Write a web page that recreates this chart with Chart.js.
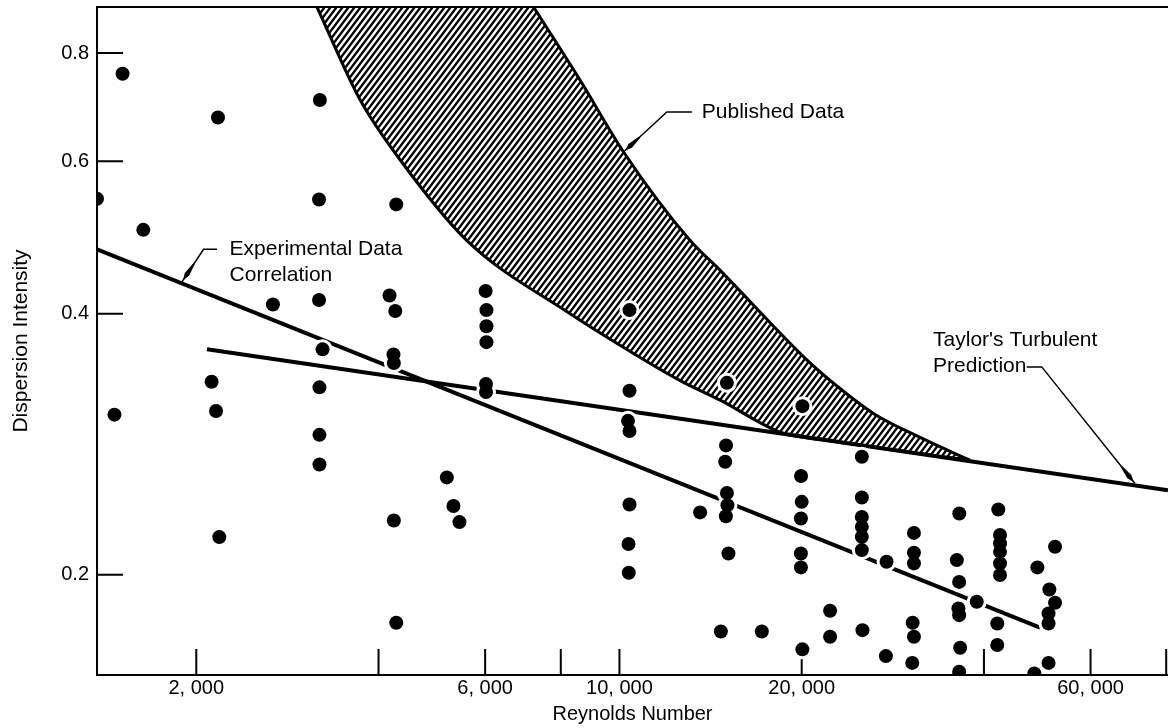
<!DOCTYPE html>
<html>
<head>
<meta charset="utf-8">
<script src="https://cdn.jsdelivr.net/npm/chart.js@4.4.1/dist/chart.umd.min.js"></script>
<style>
  html, body { margin: 0; padding: 0; background: #fff; }
</style>
</head>
<body>
<canvas id="chartDispersao" width="1168" height="728"></canvas>
<script>
// ================= DADOS =================

// medições (número de Reynolds x intensidade de dispersão)
const reynolds = [
  1371, 1465, 1511, 1635, 2120, 2156, 2172, 2183, 2677,
  3200, 3190, 3190, 3233, 3195, 3195, 3195,
  4279, 4171, 4263, 4234, 4240, 4240, 4279,
  5187, 5319, 5442,
  6011, 6030, 6030, 6030, 6020, 6020,
  10390, 10390, 10330, 10390, 10390, 10350, 10360,
  13590, 14707, 17186,
  15046, 15000, 14950, 15050, 15080, 14990, 15138,
  20053, 19950, 20000, 19940, 19940, 19940, 20050,
  22280, 22280,
  25140, 25140, 25140, 25140, 25140, 25140, 25200,
  27620, 27550,
  30650, 30650, 30650, 30500, 30650, 30450,
  36420, 36080, 36400, 36300, 36400, 36540, 36400,
  38920,
  42240, 42520, 42520, 42520, 42520, 42520, 42080, 42080,
  48450, 49010,
  51300, 52420, 51140, 51140, 51140, 52420,
];
const intensidade = [
  0.543, 0.306, 0.757, 0.500, 0.334, 0.309, 0.674, 0.221, 0.410,
  0.706, 0.542, 0.415, 0.364, 0.329, 0.290, 0.268,
  0.535, 0.420, 0.403, 0.359, 0.351, 0.231, 0.176,
  0.259, 0.240, 0.230,
  0.425, 0.404, 0.387, 0.371, 0.332, 0.325,
  0.404, 0.326, 0.301, 0.293, 0.241, 0.217, 0.201,
  0.236, 0.172, 0.172,
  0.333, 0.282, 0.270, 0.2485, 0.2406, 0.2336, 0.2116,
  0.313, 0.260, 0.2427, 0.2322, 0.2116, 0.2039, 0.164,
  0.1817, 0.1696,
  0.2736, 0.2455, 0.2332, 0.2271, 0.2212, 0.2135, 0.1726,
  0.207, 0.1611,
  0.2235, 0.212, 0.2061, 0.176, 0.1696, 0.1582,
  0.2353, 0.2079, 0.1962, 0.1828, 0.1796, 0.1647, 0.1545,
  0.1861,
  0.2378, 0.2222, 0.2173, 0.2125, 0.2061, 0.1998, 0.1757, 0.1659,
  0.1538, 0.2039,
  0.1923, 0.1856, 0.1804, 0.1757, 0.1582, 0.2154,
];

// correlação dos dados experimentais
const correlacaoRe = [1371, 49510];
const correlacaoI = [0.4749, 0.1738];

// previsão turbulenta de Taylor
const taylorRe = [2083, 80550];
const taylorI = [0.3641, 0.2503];

// faixa dos dados publicados (borda esquerda/inferior e borda direita/superior;
// a borda superior começa acima do gráfico para a faixa ser preenchida até o topo)
const publicadoInfRe = [3165, 3731, 4344, 5598, 8291, 10550, 12596, 14668, 18423, 19879, 23140, 29078, 37942];
const publicadoInfI = [0.904, 0.706, 0.602, 0.486, 0.400, 0.360, 0.335, 0.318, 0.292, 0.2885, 0.2844, 0.2778, 0.271];
const publicadoSupRe = [3165, 6354, 7212, 8613, 10157, 13086, 14668, 20392, 23140, 26270, 31376, 37942];
const publicadoSupI = [1.037, 1.037, 0.904, 0.744, 0.615, 0.486, 0.449, 0.354, 0.328, 0.307, 0.288, 0.271];

// eixos
const marcasX = [2000, 4000, 6000, 8000, 10000, 20000, 40000, 60000, 80000];
const rotulosX = [2000, 6000, 10000, 20000, 60000];
const marcasY = [0.2, 0.4, 0.6, 0.8];
const limitesX = [1371, 80550];
const limitesY = [0.1532, 0.904];

// notas com guia (posições em coordenadas dos dados)
const notas = [
  { linhas: ["Published Data"], texto: [13678, 0.6838], guia: [[13171, 0.6838], [11975, 0.6838], [10157, 0.615]] },
  { linhas: ["Experimental Data", "Correlation"], texto: [2270, 0.4749], guia: [[2164, 0.4749], [2056, 0.4749], [1894, 0.4354]] },
  { linhas: ["Taylor's Turbulent", "Prediction"], texto: [32964, 0.3734], guia: [[47064, 0.3474], [49834, 0.3474], [71040, 0.2548]] },
];

// ================= GRÁFICO =================

const juntar = (xs, ys) => xs.map((v, i) => ({ x: v, y: ys[i] }));
const formatarRe = (v) => v.toLocaleString("en-US").replace(",", ", ");

function criarHachura() {
  const c = document.createElement("canvas");
  c.width = 6;
  c.height = 8;
  const g = c.getContext("2d");
  g.strokeStyle = "#000";
  g.lineWidth = 2.3;
  g.beginPath();
  g.moveTo(-6, 8); g.lineTo(6, -8);
  g.moveTo(0, 8); g.lineTo(6, 0);
  g.moveTo(-6, 0); g.lineTo(0, -8);
  g.moveTo(0, 16); g.lineTo(12, 0);
  g.stroke();
  return g.createPattern(c, "repeat");
}

// zera o espaço extra que a escala reserva para os rótulos das pontas
function fixarEixo(tamanho) {
  return (s) => {
    if (s.isHorizontal()) s.height = tamanho;
    else s.width = tamanho;
    s.paddingTop = 0;
    s.paddingBottom = 0;
    s.paddingLeft = 0;
    s.paddingRight = 0;
  };
}

const eixosInternos = {
  id: "eixosInternos",
  beforeDatasetsDraw(chart) {
    const { ctx, chartArea: a, scales: { x, y } } = chart;
    ctx.save();
    ctx.strokeStyle = "#000";
    ctx.lineWidth = 2;
    ctx.beginPath();
    ctx.moveTo(a.left, a.top);
    ctx.lineTo(a.right, a.top);
    marcasX.forEach((v) => {
      const px = Math.min(x.getPixelForValue(v), a.right - 1);
      ctx.moveTo(px, a.bottom);
      ctx.lineTo(px, a.bottom - 26);
    });
    marcasY.forEach((v) => {
      const py = y.getPixelForValue(v);
      ctx.moveTo(a.left, py);
      ctx.lineTo(a.left + 26, py);
    });
    ctx.stroke();
    ctx.restore();
  },
};

const anotacoes = {
  id: "anotacoes",
  afterDatasetsDraw(chart) {
    const { ctx, scales: { x, y } } = chart;
    ctx.save();
    ctx.fillStyle = "#000";
    ctx.strokeStyle = "#000";
    ctx.lineWidth = 1.5;
    ctx.font = '21px "Liberation Sans", Arial, sans-serif';
    ctx.textBaseline = "middle";
    notas.forEach((n) => {
      const pts = n.guia.map(([re, di]) => [x.getPixelForValue(re), y.getPixelForValue(di)]);
      ctx.beginPath();
      pts.forEach(([px, py], i) => (i ? ctx.lineTo(px, py) : ctx.moveTo(px, py)));
      ctx.stroke();

      // ponta da seta
      const [tx, ty] = pts[pts.length - 1];
      const [bx, by] = pts[pts.length - 2];
      const d = Math.hypot(bx - tx, by - ty);
      const ux = (bx - tx) / d, uy = (by - ty) / d;
      const nx = -uy, ny = ux;
      ctx.beginPath();
      ctx.moveTo(tx + ux * 2, ty + uy * 2);
      ctx.lineTo(tx + ux * 9 + nx * 2.6, ty + uy * 9 + ny * 2.6);
      ctx.lineTo(tx + ux * 22 + nx * 0.8, ty + uy * 22 + ny * 0.8);
      ctx.lineTo(tx + ux * 22 - nx * 0.8, ty + uy * 22 - ny * 0.8);
      ctx.lineTo(tx + ux * 9 - nx * 2.6, ty + uy * 9 - ny * 2.6);
      ctx.closePath();
      ctx.fill();

      const px0 = x.getPixelForValue(n.texto[0]);
      const py0 = y.getPixelForValue(n.texto[1]);
      n.linhas.forEach((l, i) => ctx.fillText(l, px0, py0 + i * 26));
    });
    ctx.restore();
  },
};

Chart.defaults.font.family = '"Liberation Sans", Arial, sans-serif';
Chart.defaults.color = "#000";

const medicoes = juntar(reynolds, intensidade);

new Chart(document.getElementById("chartDispersao").getContext("2d"), {
  type: "scatter",
  data: {
    datasets: [
      {
        label: "Medições",
        data: medicoes,
        backgroundColor: "#000",
        borderWidth: 0,
        pointRadius: 7,
        pointHoverRadius: 7,
        clip: 0,
      },
      {
        // halo branco que interrompe as linhas em volta dos pontos, como no desenho original
        label: "Halo",
        data: medicoes,
        backgroundColor: "#fff",
        borderWidth: 0,
        pointRadius: 10,
        pointHoverRadius: 10,
        clip: -2,
      },
      {
        type: "line",
        label: "Experimental Data Correlation",
        data: juntar(correlacaoRe, correlacaoI),
        borderColor: "#000",
        borderWidth: 4,
        pointRadius: 0,
        fill: false,
      },
      {
        type: "line",
        label: "Taylor's Turbulent Prediction",
        data: juntar(taylorRe, taylorI),
        borderColor: "#000",
        borderWidth: 4,
        pointRadius: 0,
        fill: false,
      },
      {
        type: "line",
        label: "Published Data (sup)",
        data: juntar(publicadoSupRe, publicadoSupI),
        borderColor: "#000",
        borderWidth: 3,
        pointRadius: 0,
        cubicInterpolationMode: "monotone",
        fill: false,
      },
      {
        type: "line",
        label: "Published Data (inf)",
        data: juntar(publicadoInfRe, publicadoInfI),
        borderColor: "#000",
        borderWidth: 3,
        pointRadius: 0,
        cubicInterpolationMode: "monotone",
        backgroundColor: criarHachura(),
        fill: "-1",
      },
    ],
  },
  options: {
    responsive: false,
    animation: false,
    events: [],
    layout: { autoPadding: false, padding: { top: 7, right: 0, left: 0, bottom: 0 } },
    plugins: { legend: { display: false }, tooltip: { enabled: false } },
    scales: {
      x: {
        type: "logarithmic",
        bounds: "data",
        min: limitesX[0],
        max: limitesX[1],
        afterBuildTicks: (s) => { s.ticks = rotulosX.map((v) => ({ value: v })); },
        afterFit: fixarEixo(53),
        ticks: { autoSkip: false, maxRotation: 0, padding: 1, font: { size: 20 }, callback: (v) => formatarRe(v) },
        grid: { drawOnChartArea: false, drawTicks: false },
        border: { color: "#000", width: 2 },
        title: { display: true, text: "Reynolds Number", font: { size: 20 }, padding: { top: 0, bottom: 2 } },
      },
      y: {
        type: "logarithmic",
        bounds: "data",
        min: limitesY[0],
        max: limitesY[1],
        afterBuildTicks: (s) => { s.ticks = marcasY.map((v) => ({ value: v })); },
        afterFit: fixarEixo(97),
        ticks: { autoSkip: false, padding: 8, font: { size: 20 }, callback: (v) => v.toFixed(1) },
        grid: { drawOnChartArea: false, drawTicks: false },
        border: { color: "#000", width: 2 },
        title: { display: true, text: "Dispersion Intensity", font: { size: 21 }, padding: { top: 9, bottom: 0 } },
      },
    },
  },
  plugins: [eixosInternos, anotacoes],
});
</script>
</body>
</html>
